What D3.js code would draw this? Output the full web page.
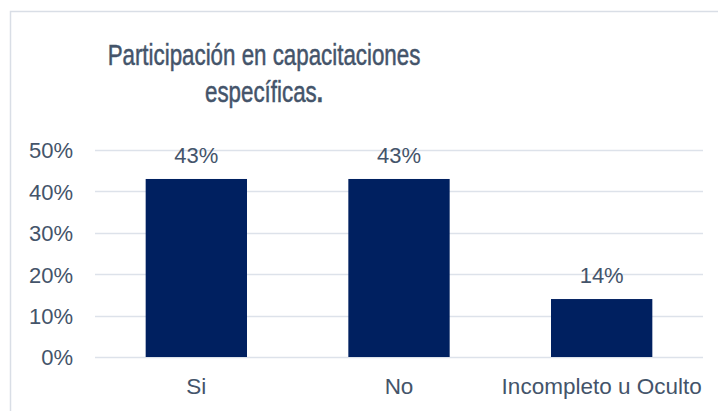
<!DOCTYPE html>
<html>
<head>
<meta charset="utf-8">
<script src="https://cdn.jsdelivr.net/npm/d3@7"></script>
<style>
html,body{margin:0;padding:0;background:#fff;}
svg{display:block;}
</style>
</head>
<body>
<svg id="chart" width="718" height="411"></svg>
<script>
const categories = ["Si", "No", "Incompleto u Oculto"];
const values = [0.43, 0.43, 0.14];
const valueLabels = ["43%", "43%", "14%"];
const yTicks = [0, 0.1, 0.2, 0.3, 0.4, 0.5];
const titleLines = ["Participación en capacitaciones", "específicas."];

(function () {
const svg = d3.select("#chart");
const textColor = "#44546a";
const barColor = "#002060";
const gridColor = "#dde2ea";

// frame
svg.append("rect").attr("x", 10.5).attr("y", 11.5).attr("width", 760).attr("height", 460)
  .attr("fill", "none").attr("stroke", "#d9dee6").attr("stroke-width", 1.5);

const pl = 95, pr = 703, pt = 150, pb = 357;
const x = d3.scaleBand().domain(categories).range([pl, pr]).paddingInner(0.5).paddingOuter(0.25);
const y = d3.scaleLinear().domain([0, 0.5]).range([pb, pt]);

// title (condensed)
const title = svg.append("g").attr("fill", textColor)
  .attr("stroke", textColor).attr("stroke-width", 0.5)
  .attr("transform", "translate(264,0) scale(0.77,1)")
  .attr("font-family", "'Liberation Sans', Arial, sans-serif")
  .attr("font-size", 29).attr("text-anchor", "middle");
title.selectAll("text").data(titleLines).join("text")
  .attr("x", 0).attr("y", (d, i) => 65 + i * 37)
  .each(function (d) {
    const t = d3.select(this);
    if (d.endsWith(".")) {
      t.append("tspan").text(d.slice(0, -1));
      t.append("tspan").attr("font-weight", "bold").text(".");
    } else {
      t.text(d);
    }
  });

// gridlines
svg.append("g").selectAll("line").data(yTicks).join("line")
  .attr("x1", pl).attr("x2", pr)
  .attr("y1", d => Math.round(y(d)) + 0.5).attr("y2", d => Math.round(y(d)) + 0.5)
  .attr("stroke", gridColor).attr("stroke-width", 1.5);

// y axis labels
const yAxis = d3.axisLeft(y).tickValues(yTicks).tickFormat(d3.format(".0%")).tickSize(0).tickPadding(0);
const ya = svg.append("g").attr("transform", `translate(73,0)`).call(yAxis);
ya.select(".domain").remove();
ya.selectAll("text").attr("fill", textColor).attr("font-size", 22)
  .attr("font-family", "'Liberation Sans', Arial, sans-serif").attr("dy", "0.36em");

// x axis labels
const xAxis = d3.axisBottom(x).tickSize(0).tickPadding(0);
const xa = svg.append("g").attr("transform", `translate(0,${pb})`).call(xAxis);
xa.select(".domain").remove();
xa.selectAll("text").attr("fill", textColor).attr("font-size", 22.5)
  .attr("font-family", "'Liberation Sans', Arial, sans-serif").attr("dy", null).attr("y", 37);

// bars
svg.append("g").selectAll("rect").data(categories).join("rect")
  .attr("x", d => x(d)).attr("width", x.bandwidth())
  .attr("y", (d, i) => y(values[i])).attr("height", (d, i) => pb - y(values[i]))
  .attr("fill", barColor);

// value labels
svg.append("g").selectAll("text").data(categories).join("text")
  .attr("x", d => x(d) + x.bandwidth() / 2)
  .attr("y", (d, i) => y(values[i]) - 16)
  .attr("text-anchor", "middle").attr("fill", textColor).attr("font-size", 22)
  .attr("font-family", "'Liberation Sans', Arial, sans-serif")
  .text((d, i) => valueLabels[i]);
})();
</script>
</body>
</html>
